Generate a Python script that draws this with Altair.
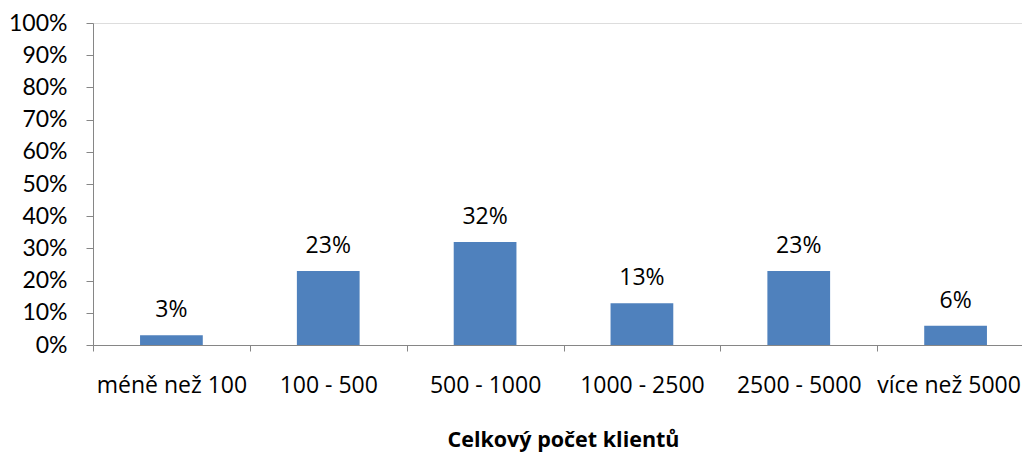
import altair as alt
import pandas as pd

categories = ["méně než 100", "100 - 500", "500 - 1000", "1000 - 2500", "2500 - 5000", "více než 5000"]
shares = [3, 23, 32, 13, 23, 6]
labels = ["3%", "23%", "32%", "13%", "23%", "6%"]
y_ticks = [0, 10, 20, 30, 40, 50, 60, 70, 80, 90, 100]

df = pd.DataFrame({"cat": categories, "share": shares, "label": labels})

FONT = "Open Sans"
AXIS_COLOR = "#868686"

x = alt.X(
    "cat:N",
    sort=categories,
    scale=alt.Scale(paddingInner=0, paddingOuter=0, range=[0, 941]),
    axis=alt.Axis(
        title="Celkový počet klientů",
        labelAngle=0,
        labelFont=FONT,
        labelFontSize=23,
        labelColor="#000000",
        labelBaseline="alphabetic",
        labelPadding=41,
        labelOffset={"condition": {"test": "datum.value === 'více než 5000'", "value": -7}, "value": 0},
        tickBand="extent",
        tickSize=6,
        tickColor=AXIS_COLOR,
        domainColor=AXIS_COLOR,
        titleFont=FONT,
        titleFontSize=21.5,
        titleFontWeight="bold",
        titleColor="#000000",
        titleBaseline="alphabetic",
        titleY=101,
        titleX=470,
        titleAnchor="middle",
        labelOverlap=False,
    ),
)

y = alt.Y(
    "share:Q",
    scale=alt.Scale(domain=[0, 100], nice=False),
    axis=alt.Axis(
        title=None,
        values=y_ticks,
        labelExpr="datum.value + '%'",
        labelFont="Lato",
        labelFontSize=23,
        labelColor="#000000",
        labelPadding=19,
        labelOverlap=False,
        labelSeparation=0,
        tickSize=7,
        tickColor=AXIS_COLOR,
        domainColor=AXIS_COLOR,
        grid=False,
    ),
)

base = alt.Chart(df).encode(x=x, y=y)

bars = base.mark_bar(color="#4F81BD", width=alt.RelativeBandSize(0.4))

text = base.mark_text(
    font=FONT, fontSize=23, color="#000000", baseline="alphabetic", dy=-18
).encode(text="label:N")

chart = (
    alt.layer(bars, text)
    .properties(
        width=929,
        height=322,
        autosize=alt.AutoSizeParams(type="none"),
        padding={"left": 85, "top": 15, "right": 0, "bottom": 107},
    )
    .configure_view(stroke=None)
    .configure(background="#ffffff")
)

chart.save("out.html", embed_options={"renderer": "svg", "actions": False})
